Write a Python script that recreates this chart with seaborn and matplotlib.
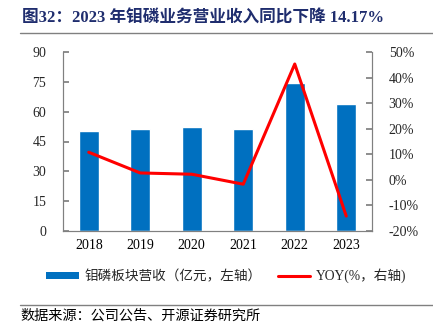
import numpy as np
import pandas as pd
import matplotlib
matplotlib.use("Agg")
import matplotlib.pyplot as plt
import seaborn as sns
from matplotlib.patches import Patch
from matplotlib.lines import Line2D
from matplotlib.ticker import FixedLocator, FuncFormatter

years = ["2018", "2019", "2020", "2021", "2022", "2023"]
revenue = [50.3, 51.4, 52.3, 51.1, 74.2, 63.7]
yoy = [10.8, 2.7, 2.2, -1.7, 45.3, -14.17]
left_ticks = [0, 15, 30, 45, 60, 75, 90]
right_ticks = [-20, -10, 0, 10, 20, 30, 40, 50]

title = "图32：2023 年钼磷业务营业收入同比下降 14.17%"
bar_label = "钼磷板块营收（亿元，左轴）"
line_label = "YOY(%，右轴)"
source = "数据来源：公司公告、开源证券研究所"

sns.set_theme(style="white")
FAM = ["Liberation Serif", "Noto Sans CJK SC"]
plt.rcParams["font.family"] = FAM

BAR = "#0070C0"
RED = "#FF0000"
SPINE = "#808080"

fig = plt.figure(figsize=(4.33, 3.35), dpi=100)
ax = fig.add_axes([63/433, 1-231/335, 309/433, 179/335])

df = pd.DataFrame({"year": years, "rev": revenue})
sns.barplot(data=df, x="year", y="rev", order=years, color=BAR, saturation=1,
            width=0.39, ax=ax)
ax.set_xlim(-0.5, 5.5)
ax.set_ylim(0, 90)
ax.set_yticks(left_ticks)
ax.set_xlabel("")
ax.set_ylabel("")

ax2 = ax.twinx()
sns.lineplot(x=np.arange(len(years)), y=yoy, color=RED, linewidth=2.2, ax=ax2)
ax2.set_ylim(-20, 50)
ax2.set_yticks(right_ticks)
ax2.yaxis.set_major_formatter(FuncFormatter(lambda v, p: f"{int(v)}%"))
ax2.set_xlim(-0.5, 5.5)

for a in (ax, ax2):
    a.spines["top"].set_visible(False)
    for s in ("left", "right", "bottom"):
        a.spines[s].set_color(SPINE)
        a.spines[s].set_linewidth(0.8)
    a.grid(False)
    a.set_facecolor("none")

ax.tick_params(axis="x", which="major", length=0, labelsize=10, pad=6, colors="black")
ax.xaxis.set_minor_locator(FixedLocator(np.arange(-0.5, 6, 1.0)))
ax.tick_params(axis="x", which="minor", direction="in", length=4, color=SPINE)
ax.tick_params(axis="y", direction="in", length=4, color=SPINE, labelsize=10, pad=12)
ax2.tick_params(axis="y", direction="in", length=4, color=SPINE, labelsize=10, pad=12)

for lab in ax.get_xticklabels() + ax.get_yticklabels() + ax2.get_yticklabels():
    lab.set_fontfamily(FAM)

# title
fig.text(22/433, 1-19/335, title, fontsize=12, fontweight="bold", color="#1F2D6E",
         va="center", ha="left", family=FAM)
fig.add_artist(Line2D([20/433, 1], [1-33/335, 1-33/335], color="#808080", lw=1.0))

# legend
handles = [Patch(facecolor=BAR, edgecolor="none", label=bar_label),
           Line2D([0], [0], color=RED, lw=2.2, label=line_label)]
leg = fig.legend(handles=handles, loc="center", bbox_to_anchor=(0.522, 1-276/335),
                 ncol=2, frameon=False, handlelength=2.4, handleheight=0.45,
                 columnspacing=1.2, handletextpad=0.4, prop={"family": FAM, "size": 9.8})

fig.add_artist(Line2D([20/433, 1], [1-305/335, 1-305/335], color="#808080", lw=1.0))
fig.text(20/433, 1-316/335, source, fontsize=10.2, color="black", va="center",
         ha="left", family=FAM)

fig.savefig("out.png", dpi=100)
